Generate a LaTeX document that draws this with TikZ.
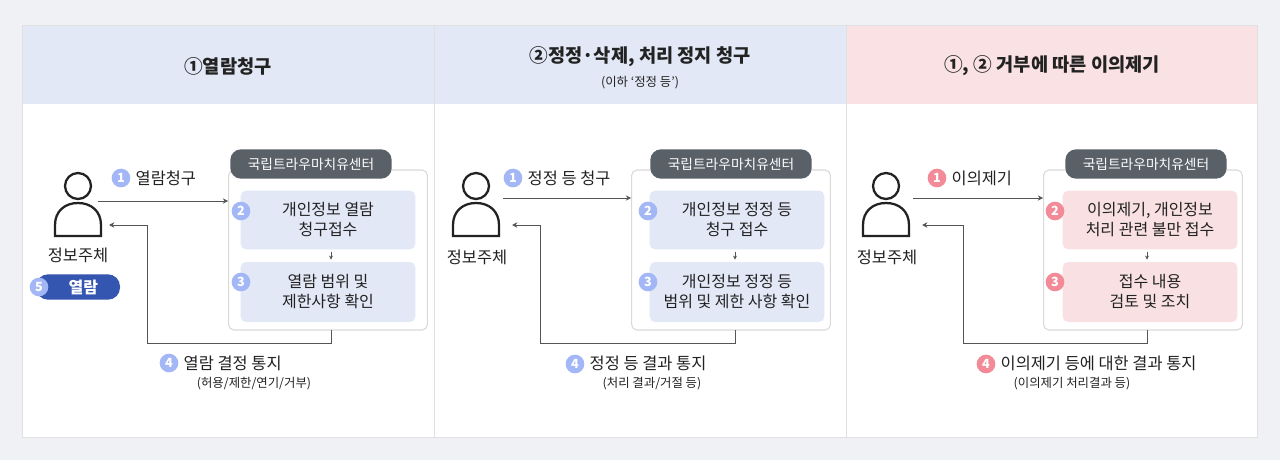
\documentclass[tikz,border=0pt]{standalone}
\usepackage{fontspec}
\setmainfont{Noto Sans CJK KR}
\usetikzlibrary{arrows.meta}
\definecolor{bgc}{HTML}{F0F1F5}
\definecolor{hblue}{HTML}{E2E8F5}
\definecolor{hpink}{HTML}{F9E1E4}
\definecolor{bblue}{HTML}{E3E8F7}
\definecolor{bpink}{HTML}{F8E0E3}
\definecolor{cblue}{HTML}{A3B6F5}
\definecolor{cpink}{HTML}{F28B97}
\definecolor{tagc}{HTML}{5A6068}
\definecolor{pillc}{HTML}{3556B0}
\definecolor{linec}{HTML}{555555}
\definecolor{txt}{HTML}{222222}
\tikzset{
 hdr/.style={font=\fontsize{14}{16}\selectfont\bfseries, text=txt},
 sub/.style={font=\fontsize{9.3}{10}\selectfont, text=txt},
 lab/.style={font=\fontsize{12.3}{14}\selectfont, text=txt},
 boxtxt/.style={font=\fontsize{12}{15}\selectfont, text=txt, align=center},
 tag/.style={fill=tagc, text=white, rounded corners=8pt, minimum width=121pt, minimum height=22pt, font=\fontsize{10.3}{11}\selectfont, inner sep=0pt},
 badge/.style={circle, fill=#1, text=white, minimum size=14pt, inner sep=0pt, font=\fontsize{9.5}{10}\selectfont\bfseries},
 conn/.style={draw=linec, line width=0.7pt, -{Stealth[length=4pt,width=4pt]}},
 cont/.style={draw=black!15, fill=white, rounded corners=4pt, line width=0.8pt},
}
\begin{document}
\begin{tikzpicture}[x=0.75pt,y=-0.75pt]
\fill[bgc] (0,0) rectangle (1280,460);
\fill[white] (22,25) rectangle (1257,437);
\fill[hblue] (22,25) rectangle (846,104);
\fill[hpink] (846,25) rectangle (1257,104);
\draw[black!12, line width=0.7pt] (22,25) rectangle (1257,437) (434,25) -- (434,437) (846,25) -- (846,437);
\node[hdr] (h1) at (228,66) {①열람청구};
\node[hdr] (h2) at (640,57) {②정정·삭제, 처리 정지 청구};
\node[sub] (h2s) at (640,83) {(이하 ‘정정 등’)};
\node[hdr] (h3) at (1052,66) {①, ② 거부에 따른 이의제기};

\newcommand{\mperson}[2]{%
 \draw[line width=1.7pt, txt] (#1,#2) circle (13);
 \draw[line width=1.7pt, txt] (#1-23,#2+50) -- (#1-23,#2+39) .. controls (#1-23,#2+25) and (#1-13,#2+17) .. (#1,#2+17) .. controls (#1+13,#2+17) and (#1+23,#2+25) .. (#1+23,#2+39) -- (#1+23,#2+50) -- cycle;
}
% column 1
\mperson{78}{186}
\node[lab] (p1) at (78,255) {정보주체};
\node[fill=pillc, text=white, rounded corners=9pt, minimum width=63pt, minimum height=19pt, inner sep=0pt, font=\fontsize{12}{12}\selectfont\bfseries] (pill) at (78,287) {\hspace{8pt}열람};
\node[badge=cblue] (b5) at (39,287) {5};
\node[cont, minimum width=149pt, minimum height=120pt] (c1) at (328,250) {};
\node[tag] (t1) at (311,164) {국립트라우마치유센터};
\node[fill=bblue, rounded corners=4pt, minimum width=131pt, minimum height=44pt, boxtxt] (a2) at (328,220) {개인정보 열람\\청구접수};
\node[fill=bblue, rounded corners=4pt, minimum width=131pt, minimum height=45pt, boxtxt] (a3) at (328,292) {열람 범위 및\\제한사항 확인};
\node[badge=cblue] (ab2) at (241,211) {2};
\node[badge=cblue] (ab3) at (241,282) {3};
\draw[conn, -{Stealth[length=3pt,width=3pt]}] (a2.south) ++(3,2) -- ++(0,8);
\coordinate (in1) at (98,201);
\draw[conn] (in1) -- (in1 -| c1.west);
\node[badge=cblue] (ab1) at (121,178) {1};
\node[lab, anchor=west] (l1) at (131,178) {열람청구};
\coordinate (r1a) at (331,330);
\draw[conn] (r1a) -- (331,343) -- (147,343) -- (147,225) -- (109,225);
\node[badge=cblue] (ab4) at (169,363) {4};
\node[lab, anchor=west] (l4) at (179,363) {열람 결정 통지};
\node[sub] (l4s) at (254,384) {(허용/제한/연기/거부)};

% column 2
\mperson{476}{186}
\node[lab] (p2) at (477,257) {정보주체};
\node[cont, minimum width=149pt, minimum height=120pt] (c2) at (731,250) {};
\node[tag] (t2) at (731,164) {국립트라우마치유센터};
\node[fill=bblue, rounded corners=4pt, minimum width=131pt, minimum height=44pt, boxtxt] (d2) at (737,220) {개인정보 정정 등\\청구 접수};
\node[fill=bblue, rounded corners=4pt, minimum width=131pt, minimum height=45pt, boxtxt] (d3) at (737,292) {개인정보 정정 등\\범위 및 제한 사항 확인};
\node[badge=cblue] (db2) at (648,211) {2};
\node[badge=cblue] (db3) at (648,282) {3};
\draw[conn, -{Stealth[length=3pt,width=3pt]}] (d2.south) ++(-2,2) -- ++(0,8);
\coordinate (in2) at (503,198);
\draw[conn] (in2) -- (in2 -| c2.west);
\node[badge=cblue] (db1) at (513,178) {1};
\node[lab, anchor=west] (m1) at (523,178) {정정 등 청구};
\coordinate (r2a) at (735,330);
\draw[conn] (r2a) -- (735,343) -- (540,343) -- (540,225) -- (512,225);
\node[badge=cblue] (db4) at (575,364) {4};
\node[lab, anchor=west] (m4) at (585,363) {정정 등 결과 통지};
\node[sub] (m4s) at (652,384) {(처리 결과/거절 등)};

% column 3
\mperson{886}{186}
\node[lab] (p3) at (887,257) {정보주체};
\node[cont, minimum width=149pt, minimum height=120pt] (c3) at (1143,250) {};
\node[tag] (t3) at (1146,164) {국립트라우마치유센터};
\node[fill=bpink, rounded corners=4pt, minimum width=131pt, minimum height=44pt, boxtxt] (g2) at (1150,220) {이의제기, 개인정보\\처리 관련 불만 접수};
\node[fill=bpink, rounded corners=4pt, minimum width=131pt, minimum height=45pt, boxtxt] (g3) at (1150,292) {접수 내용\\검토 및 조치};
\node[badge=cpink] (gb2) at (1055,211) {2};
\node[badge=cpink] (gb3) at (1055,282) {3};
\draw[conn, -{Stealth[length=3pt,width=3pt]}] (g2.south) ++(-3,2) -- ++(0,8);
\coordinate (in3) at (913,198);
\draw[conn] (in3) -- (in3 -| c3.west);
\node[badge=cpink] (gb1) at (937,178) {1};
\node[lab, anchor=west] (n1) at (947,178) {이의제기};
\coordinate (r3a) at (1147,330);
\draw[conn] (r3a) -- (1147,343) -- (963,343) -- (963,225) -- (922,225);
\node[badge=cpink] (gb4) at (986,364) {4};
\node[lab, anchor=west] (n4) at (996,363) {이의제기 등에 대한 결과 통지};
\node[sub] (n4s) at (1072,384) {(이의제기 처리결과 등)};
\end{tikzpicture}
\end{document}
